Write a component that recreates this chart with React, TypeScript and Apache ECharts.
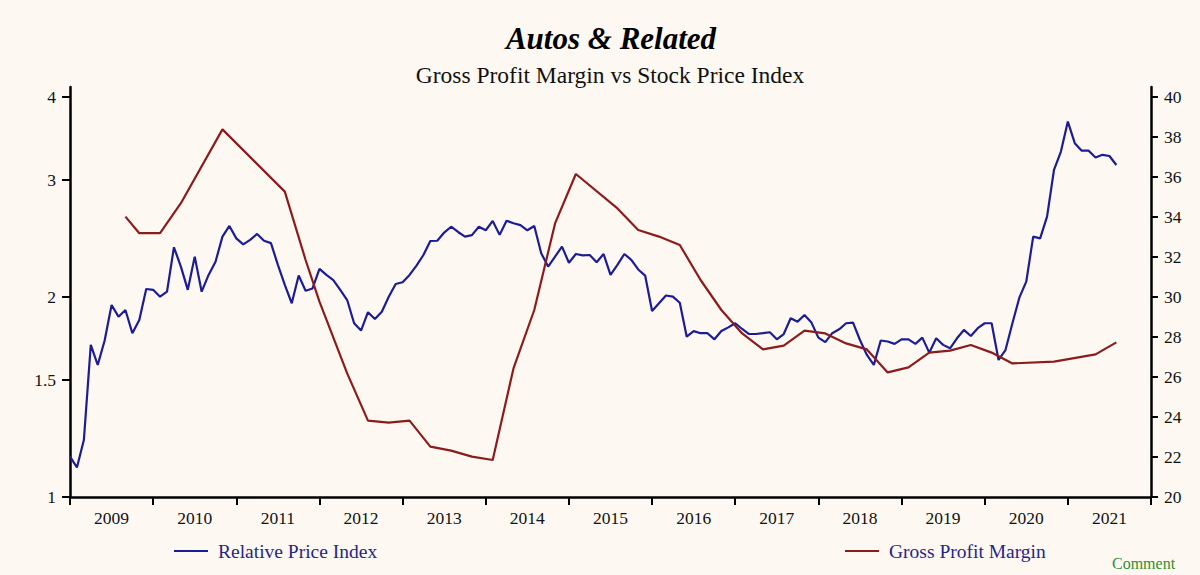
import React, { useEffect, useRef } from "react";
import * as echarts from "echarts";

// Relative Price Index, monthly from 2009-01 (left, log scale)
const priceStart = "2009-01";
const priceIndex = [
  1.15, 1.108, 1.218, 1.694, 1.58, 1.72, 1.945, 1.868, 1.912, 1.764, 1.847, 2.056,
  2.05, 2.002, 2.037, 2.376, 2.222, 2.05, 2.3, 2.037, 2.159, 2.26, 2.465, 2.558,
  2.45, 2.4, 2.437, 2.488, 2.43, 2.41, 2.235, 2.085, 1.957, 2.154, 2.044, 2.06,
  2.204, 2.159, 2.121, 2.05, 1.979, 1.826, 1.78, 1.897, 1.853, 1.9, 2.002, 2.092,
  2.105, 2.159, 2.23, 2.313, 2.428, 2.43, 2.5, 2.551, 2.505, 2.465, 2.478, 2.551,
  2.52, 2.603, 2.48, 2.605, 2.582, 2.565, 2.52, 2.558, 2.327, 2.222, 2.3, 2.381,
  2.252, 2.321, 2.31, 2.313, 2.256, 2.321, 2.159, 2.235, 2.321, 2.274, 2.2, 2.154,
  1.905, 1.957, 2.01, 2.002, 1.96, 1.743, 1.777, 1.764, 1.764, 1.727, 1.777, 1.8,
  1.826, 1.79, 1.759, 1.759, 1.764, 1.77, 1.727, 1.759, 1.858, 1.836, 1.879, 1.83,
  1.737, 1.71, 1.764, 1.788, 1.826, 1.83, 1.723, 1.636, 1.58, 1.72, 1.714, 1.7,
  1.727, 1.727, 1.7, 1.737, 1.649, 1.733, 1.694, 1.674, 1.733, 1.784, 1.747, 1.795,
  1.826, 1.826, 1.608, 1.664, 1.826, 1.995, 2.109, 2.465, 2.45, 2.642, 3.106, 3.31,
  3.672, 3.408, 3.32, 3.32, 3.242, 3.273, 3.26, 3.16,
];

// Gross Profit Margin (right axis, %)
const marginDates = [
  "2009-09", "2009-11", "2010-02", "2010-05", "2010-11", "2011-08", "2011-11", "2012-01",
  "2012-05", "2012-08", "2012-11", "2013-02", "2013-05", "2013-08", "2013-11", "2014-02",
  "2014-05", "2014-08", "2014-11", "2015-02", "2015-08", "2015-11", "2016-02", "2016-05",
  "2016-08", "2016-11", "2017-02", "2017-05", "2017-08", "2017-11", "2018-02", "2018-05",
  "2018-08", "2018-11", "2019-02", "2019-05", "2019-08", "2019-11", "2020-02", "2020-05",
  "2020-11", "2021-05", "2021-08",
];
const marginValues = [
  34.02, 33.19, 33.19, 34.69, 38.38, 35.27, 31.85, 29.77,
  26.18, 23.82, 23.72, 23.82, 22.52, 22.32, 22.02, 21.85,
  26.43, 29.35, 33.68, 36.15, 34.43, 33.35, 33.02, 32.6,
  30.85, 29.35, 28.18, 27.38, 27.57, 28.32, 28.18, 27.68,
  27.38, 26.23, 26.48, 27.22, 27.32, 27.6, 27.22, 26.68,
  26.77, 27.13, 27.73,
];

const leftTicks = [1, 1.5, 2, 3, 4];
const rightTicks = [20, 22, 24, 26, 28, 30, 32, 34, 36, 38, 40];
const yearLabels = [2009, 2010, 2011, 2012, 2013, 2014, 2015, 2016, 2017, 2018, 2019, 2020, 2021];

const FONT = "Liberation Serif";
const BLUE = "#1c1c96";
const RED = "#8c1c1c";
const TEXT = "#111";

function dateToYear(s: string): number {
  const [y, m] = s.split("-").map(Number);
  return y + (m - 1) / 12;
}

export default function App() {
  const ref = useRef<HTMLDivElement>(null);

  useEffect(() => {
    document.body.style.margin = "0";
    const chart = echarts.init(ref.current!, null, { renderer: "svg" });
    const start = dateToYear(priceStart);
    const priceData = priceIndex.map((v, i) => [start + i / 12, v]);
    const marginData = marginValues.map((v, i) => [dateToYear(marginDates[i]), v]);

    chart.setOption({
      animation: false,
      backgroundColor: "#fdf9f2",
      graphic: [
        {
          type: "text",
          x: 611,
          y: 38,
          style: {
            text: "Autos & Related",
            font: `italic bold 31px "${FONT}"`,
            fill: "#000",
            textAlign: "center",
            textVerticalAlign: "middle",
          },
        },
        {
          type: "text",
          x: 610,
          y: 75,
          style: {
            text: "Gross Profit Margin vs Stock Price Index",
            font: `23.5px "${FONT}"`,
            fill: "#111",
            textAlign: "center",
            textVerticalAlign: "middle",
          },
        },
        {
          type: "text",
          x: 1112,
          y: 555,
          style: {
            text: "Comment",
            font: `16px "${FONT}"`,
            fill: "#2f8f2f",
            textAlign: "left",
            textVerticalAlign: "top",
          },
        },
      ],
      grid: { left: 70, right: 49, top: 87, bottom: 78 },
      legend: [
        {
          data: ["Relative Price Index"],
          left: 169,
          top: 536,
          icon: "rect",
          itemWidth: 34,
          itemHeight: 2,
          textStyle: { color: "#25258a", fontSize: 19.5, fontFamily: FONT, padding: [0, 0, 0, 5] },
        },
        {
          data: ["Gross Profit Margin"],
          left: 840,
          top: 536,
          icon: "rect",
          itemWidth: 34,
          itemHeight: 2,
          textStyle: { color: "#25258a", fontSize: 19.5, fontFamily: FONT, padding: [0, 0, 0, 5] },
        },
      ],
      xAxis: {
        type: "value",
        min: 2009,
        max: 2022,
        interval: 1,
        axisLine: { show: true, lineStyle: { color: "#000", width: 2.5 } },
        axisTick: { show: true, length: 8, lineStyle: { color: "#000", width: 2 } },
        axisLabel: {
          customValues: yearLabels.map((y) => y + 0.5),
          formatter: (v: number) => String(Math.floor(v)),
          color: TEXT,
          fontSize: 17.5,
          fontFamily: FONT,
          margin: 12,
        },
        splitLine: { show: false },
      },
      yAxis: [
        {
          type: "log",
          logBase: 10,
          min: 1,
          max: 4.14,
          position: "left",
          axisLine: { show: true, lineStyle: { color: "#000", width: 2.5 } },
          axisTick: { show: true, customValues: leftTicks, length: 8, lineStyle: { color: "#000", width: 2 } },
          axisLabel: {
            customValues: leftTicks,
            formatter: (v: number) => String(v),
            color: TEXT,
            fontSize: 17.5,
            fontFamily: FONT,
            margin: 14,
          },
          splitLine: { show: false },
          minorTick: { show: false },
        },
        {
          type: "value",
          min: 20,
          max: 40.5,
          position: "right",
          axisLine: { show: true, lineStyle: { color: "#000", width: 2.5 } },
          axisTick: { show: true, customValues: rightTicks, length: 7, lineStyle: { color: "#000", width: 2 } },
          axisLabel: {
            customValues: rightTicks,
            color: TEXT,
            fontSize: 17.5,
            fontFamily: FONT,
            margin: 13,
          },
          splitLine: { show: false },
        },
      ],
      series: [
        {
          name: "Relative Price Index",
          type: "line",
          yAxisIndex: 0,
          data: priceData,
          symbol: "none",
          lineStyle: { color: BLUE, width: 2.2 },
          itemStyle: { color: BLUE },
        },
        {
          name: "Gross Profit Margin",
          type: "line",
          yAxisIndex: 1,
          data: marginData,
          symbol: "none",
          lineStyle: { color: RED, width: 2.2 },
          itemStyle: { color: RED },
        },
      ],
    });
    return () => chart.dispose();
  }, []);

  return <div ref={ref} style={{ width: 1200, height: 575, position: "absolute", left: 0, top: 0 }} />;
}
